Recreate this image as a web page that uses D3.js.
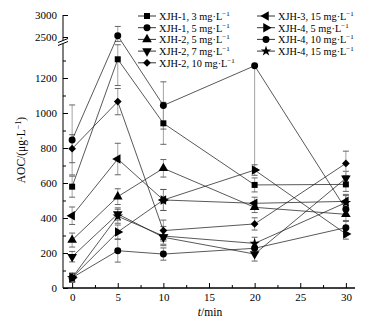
<!DOCTYPE html>
<html><head><meta charset="utf-8">
<script src="https://cdn.jsdelivr.net/npm/d3@7"></script>
<style>body{margin:0;background:#fff}svg{display:block}text{font-family:"Liberation Serif","Times New Roman",serif;fill:#000}</style>
</head><body><svg id="c" width="379" height="325"></svg>
<script>
const times = [0, 5, 10, 20, 30];
const seriesNames = ["XJH-1, 3 mg·L", "XJH-1, 5 mg·L", "XJH-2, 5 mg·L", "XJH-2, 7 mg·L", "XJH-2, 10 mg·L",
  "XJH-3, 15 mg·L", "XJH-4, 5 mg·L", "XJH-4, 10 mg·L", "XJH-4, 15 mg·L"];
const markers = ["square", "circle", "up", "down", "diamond", "left", "right", "circle", "star"];
const xjh1_3 = [579, 1307, 941, 589, 592];
const xjh1_5 = [846, 2530, 1043, 1270, 450];
const xjh2_5 = [274, 522, 684, 461, 421];
const xjh2_7 = [179, 423, 290, 194, 627];
const xjh2_10 = [796, 1065, 328, 366, 712];
const xjh3_15 = [413, 737, 503, 484, 495];
const xjh4_5 = [59, 320, 503, 674, 309];
const xjh4_10 = [59, 213, 194, 227, 345];
const xjh4_15 = [59, 410, 297, 255, 488];
// error bars: number = symmetric, [down, up] = asymmetric
const err1_3 = [60, 150, 120, 40, 40];
const err1_5 = [200, 210, 135, [600, 0], 40];
const err2_5 = [40, 45, 50, 30, 35];
const err2_7 = [30, 35, 40, 40, 40];
const err2_10 = [80, 75, 60, 35, 70];
const err3_15 = [50, 90, 60, 35, 40];
const err4_5 = [25, 40, 60, 30, 30];
const err4_10 = [25, 65, 35, 30, 35];
const err4_15 = [25, 40, 55, 35, 40];
const values = [xjh1_3, xjh1_5, xjh2_5, xjh2_7, xjh2_10, xjh3_15, xjh4_5, xjh4_10, xjh4_15];
const errors = [err1_3, err1_5, err2_5, err2_7, err2_10, err3_15, err4_5, err4_10, err4_15];
const xTicks = [0, 5, 10, 15, 20, 25, 30];
const yTicksLow = [0, 200, 400, 600, 800, 1000, 1200];
const yTicksHigh = [2500, 3000];

const svg = d3.select("#c");
const x = d3.scaleLinear().domain([-1, 31]).range([63, 355]);
const yLow = d3.scaleLinear().domain([0, 1400]).range([288, 43]);
const yHigh = d3.scaleLinear().domain([2400, 3000]).range([41.4, 15]);
const y = v => v >= 2000 ? yHigh(Math.max(v, 2400)) : yLow(Math.min(v, 1390));

// axes
const gx = svg.append("g").attr("transform", "translate(0,288)");
gx.call(d3.axisBottom(x).tickValues(xTicks).tickSizeInner(-5).tickSizeOuter(0).tickPadding(5));
gx.append("g").call(d3.axisBottom(x).tickValues(d3.range(2.5, 31, 5)).tickSizeInner(-3).tickSizeOuter(0).tickFormat(""));
gx.selectAll("path.domain").attr("d", "M63,0H355");

const gy = svg.append("g").attr("transform", "translate(63,0)");
gy.append("g").call(d3.axisLeft(yLow).tickValues(yTicksLow).tickSizeInner(-5).tickSizeOuter(0).tickPadding(6).tickFormat(d3.format("d")));
gy.append("g").call(d3.axisLeft(yLow).tickValues(d3.range(100, 1400, 200)).tickSizeInner(-3).tickSizeOuter(0).tickFormat(""));
gy.append("g").call(d3.axisLeft(yHigh).tickValues(yTicksHigh).tickSizeInner(-5).tickSizeOuter(0).tickPadding(6).tickFormat(d3.format("d")));
gy.selectAll("path.domain").remove();
gy.append("line").attr("x1", 0).attr("x2", 0).attr("y1", 15).attr("y2", 288).attr("stroke", "#000");
svg.selectAll(".tick text").style("font-size", "11px").style("font-family", "Liberation Serif");
svg.selectAll(".tick line").attr("stroke", "#000");
// axis break
svg.append("rect").attr("x", 60).attr("y", 40.5).attr("width", 6).attr("height", 3.2).attr("fill", "#fff");
svg.append("line").attr("x1", 58).attr("y1", 42.5).attr("x2", 68).attr("y2", 38.5).attr("stroke", "#000");
svg.append("line").attr("x1", 58).attr("y1", 45.5).attr("x2", 68).attr("y2", 41.5).attr("stroke", "#000");

// error bars
const plot = svg.append("g");
values.forEach((vals, si) => {
  vals.forEach((v, i) => {
    const e = errors[si][i];
    const dn = Array.isArray(e) ? e[0] : e, up = Array.isArray(e) ? e[1] : e;
    const cx = x(times[i]);
    const y1 = y(v - dn), y2 = y(v + up);
    plot.append("line").attr("x1", cx).attr("x2", cx).attr("y1", y1).attr("y2", y2).attr("stroke", "#999").attr("stroke-width", 0.9);
    if (dn > 0 && dn < 500) plot.append("line").attr("x1", cx - 3).attr("x2", cx + 3).attr("y1", y1).attr("y2", y1).attr("stroke", "#555").attr("stroke-width", 0.9);
    if (up > 0) plot.append("line").attr("x1", cx - 3).attr("x2", cx + 3).attr("y1", y2).attr("y2", y2).attr("stroke", "#555").attr("stroke-width", 0.9);
  });
});
// lines
const line = d3.line().x((d, i) => x(times[i])).y(d => y(d));
values.forEach(vals => {
  plot.append("path").attr("d", line(vals)).attr("fill", "none").attr("stroke", "#222").attr("stroke-width", 0.75);
});
// markers
function marker(g, type, cx, cy) {
  let sym, size, rot = 0;
  switch (type) {
    case "square": sym = d3.symbolSquare; size = 36; break;
    case "circle": sym = d3.symbolCircle; size = 38; break;
    case "up": sym = d3.symbolTriangle; size = 40; break;
    case "down": sym = d3.symbolTriangle; size = 40; rot = 180; break;
    case "left": sym = d3.symbolTriangle; size = 40; rot = -90; break;
    case "right": sym = d3.symbolTriangle; size = 40; rot = 90; break;
    case "diamond": sym = d3.symbolSquare; size = 30; rot = 45; break;
    case "star": sym = d3.symbolStar; size = 34; break;
  }
  g.append("path").attr("d", d3.symbol().type(sym).size(size)())
    .attr("transform", `translate(${cx},${cy}) rotate(${rot})`).attr("fill", "#000");
}
values.forEach((vals, si) => {
  vals.forEach((v, i) => marker(plot, markers[si], x(times[i]), y(v)));
});

// legend
const leg = svg.append("g");
seriesNames.forEach((name, i) => {
  const col = i < 5 ? 0 : 1;
  const row = i < 5 ? i : i - 5;
  const lx = col === 0 ? 138 : 257;
  const ly = 16 + row * 11.7;
  leg.append("line").attr("x1", lx).attr("x2", lx + 18).attr("y1", ly).attr("y2", ly).attr("stroke", "#000").attr("stroke-width", 0.8);
  marker(leg, markers[i], lx + 9, ly);
  const t = leg.append("text").attr("x", lx + 21).attr("y", ly + 4).style("font-size", "10.3px");
  t.append("tspan").text(name);
  t.append("tspan").attr("dy", -4).style("font-size", "7px").text("−1");
});

// axis titles
const yl = svg.append("text").attr("transform", "translate(25,150) rotate(-90)").attr("text-anchor", "middle").style("font-size", "11.5px");
yl.append("tspan").text("AOC/(μg·L");
yl.append("tspan").attr("dy", -4.5).style("font-size", "8px").text("−1");
yl.append("tspan").attr("dy", 4.5).text(")");
const xl = svg.append("text").attr("x", 210).attr("y", 316).attr("text-anchor", "middle").style("font-size", "11.5px");
xl.append("tspan").style("font-style", "italic").text("t");
xl.append("tspan").text("/min");
</script></body></html>
